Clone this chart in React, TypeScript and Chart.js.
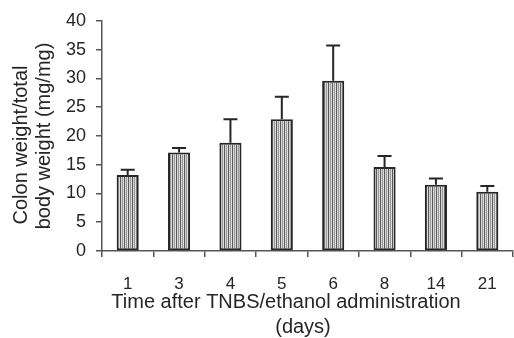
import React, { useEffect, useRef } from "react";
import { Chart, registerables } from "chart.js";

Chart.register(...registerables);

const categories = ["1", "3", "4", "5", "6", "8", "14", "21"];
const meanValues = [13.2, 17.1, 18.8, 22.9, 29.6, 14.6, 11.5, 10.3];
const errorValues = [0.9, 0.8, 4.1, 3.9, 6.1, 1.9, 1.1, 1.0];
const yMin = 0;
const yMax = 40;
const yStep = 5;
const xTitleLines = ["Time after TNBS/ethanol administration", "(days)"];
const yTitleLines = ["Colon weight/total", "body weight (mg/mg)"];

const FONT = "'Liberation Sans', Arial, sans-serif";
const INK = "#262626";

function makeStripePattern(): CanvasPattern | string {
  const c = document.createElement("canvas");
  c.width = 4;
  c.height = 2;
  const g = c.getContext("2d");
  if (!g) return "#999";
  const cols = ["#5a5a5a", "#c9c9c9", "#9a9a9a", "#d6d6d6"];
  cols.forEach((col, i) => {
    g.fillStyle = col;
    g.fillRect(i, 0, 1, 2);
  });
  g.fillStyle = "rgba(255,255,255,0.35)";
  g.fillRect(1, 1, 1, 1);
  g.fillRect(3, 0, 1, 1);
  const p = g.createPattern(c, "repeat");
  return p || "#999";
}

const errorBarsAndTitles = {
  id: "errorBarsAndTitles",
  afterDatasetsDraw(chart: any) {
    const ctx = chart.ctx;
    const meta = chart.getDatasetMeta(0);
    const yScale = chart.scales.y;
    ctx.save();
    ctx.strokeStyle = INK;
    ctx.lineWidth = 2;
    meta.data.forEach((bar: any, i: number) => {
      const x = bar.x;
      const top = yScale.getPixelForValue(meanValues[i] + errorValues[i]);
      const base = yScale.getPixelForValue(meanValues[i]);
      ctx.beginPath();
      ctx.moveTo(x, base);
      ctx.lineTo(x, top);
      ctx.moveTo(x - 7, top);
      ctx.lineTo(x + 7, top);
      ctx.stroke();
    });
    ctx.restore();
  },
  afterDraw(chart: any) {
    const ctx = chart.ctx;
    ctx.save();
    ctx.fillStyle = INK;
    ctx.font = `20px ${FONT}`;
    ctx.textAlign = "center";
    ctx.textBaseline = "alphabetic";
    // x-axis title
    ctx.fillText(xTitleLines[0], 286, 308);
    ctx.fillText(xTitleLines[1], 303, 333);
    // y-axis title (rotated)
    const yPos = [
      { x: 27, y: 145 },
      { x: 50, y: 136 },
    ];
    yTitleLines.forEach((t, i) => {
      ctx.save();
      ctx.translate(yPos[i].x, yPos[i].y);
      ctx.rotate(-Math.PI / 2);
      ctx.fillText(t, 0, 0);
      ctx.restore();
    });
    ctx.restore();
  },
};

export default function App() {
  const ref = useRef<HTMLCanvasElement | null>(null);

  useEffect(() => {
    document.body.style.margin = "0";
    const canvas = ref.current;
    if (!canvas) return;
    const pattern = makeStripePattern();
    const chart = new Chart(canvas, {
      type: "bar",
      data: {
        labels: categories,
        datasets: [
          {
            data: meanValues,
            backgroundColor: pattern as any,
            borderColor: INK,
            borderWidth: 2,
            borderSkipped: false,
            categoryPercentage: 1,
            barPercentage: 0.43,
          },
        ],
      },
      options: {
        animation: false,
        responsive: false,
        maintainAspectRatio: false,
        devicePixelRatio: 1,
        layout: { padding: { left: 0, right: 1, top: 19, bottom: 0 } },
        plugins: {
          legend: { display: false },
          tooltip: { enabled: false },
          title: { display: false },
        },
        scales: {
          x: {
            type: "category",
            offset: true,
            grid: {
              offset: true,
              drawOnChartArea: false,
              drawTicks: true,
              tickLength: 6,
              color: "#555",
              lineWidth: 1.5,
            },
            border: { display: true, color: "#555", width: 1.5 },
            ticks: {
              color: INK,
              font: { family: FONT, size: 17 },
              padding: 17,
              maxRotation: 0,
              autoSkip: false,
            },
            afterFit: (s: any) => {
              s.height = 87;
            },
          },
          y: {
            min: yMin,
            max: yMax,
            grid: {
              drawOnChartArea: false,
              drawTicks: true,
              tickLength: 6,
              color: "#555",
              lineWidth: 1.5,
            },
            border: { display: true, color: "#555", width: 1.5 },
            ticks: {
              stepSize: yStep,
              color: INK,
              font: { family: FONT, size: 18 },
              padding: 10,
            },
            afterFit: (s: any) => {
              s.width = 102;
            },
          },
        },
      },
      plugins: [errorBarsAndTitles],
    });
    return () => chart.destroy();
  }, []);

  return (
    <div style={{ position: "absolute", left: 0, top: 0, width: 514, height: 338, background: "#fff" }}>
      <canvas ref={ref} width={514} height={338} style={{ display: "block", width: 514, height: 338 }} />
    </div>
  );
}
